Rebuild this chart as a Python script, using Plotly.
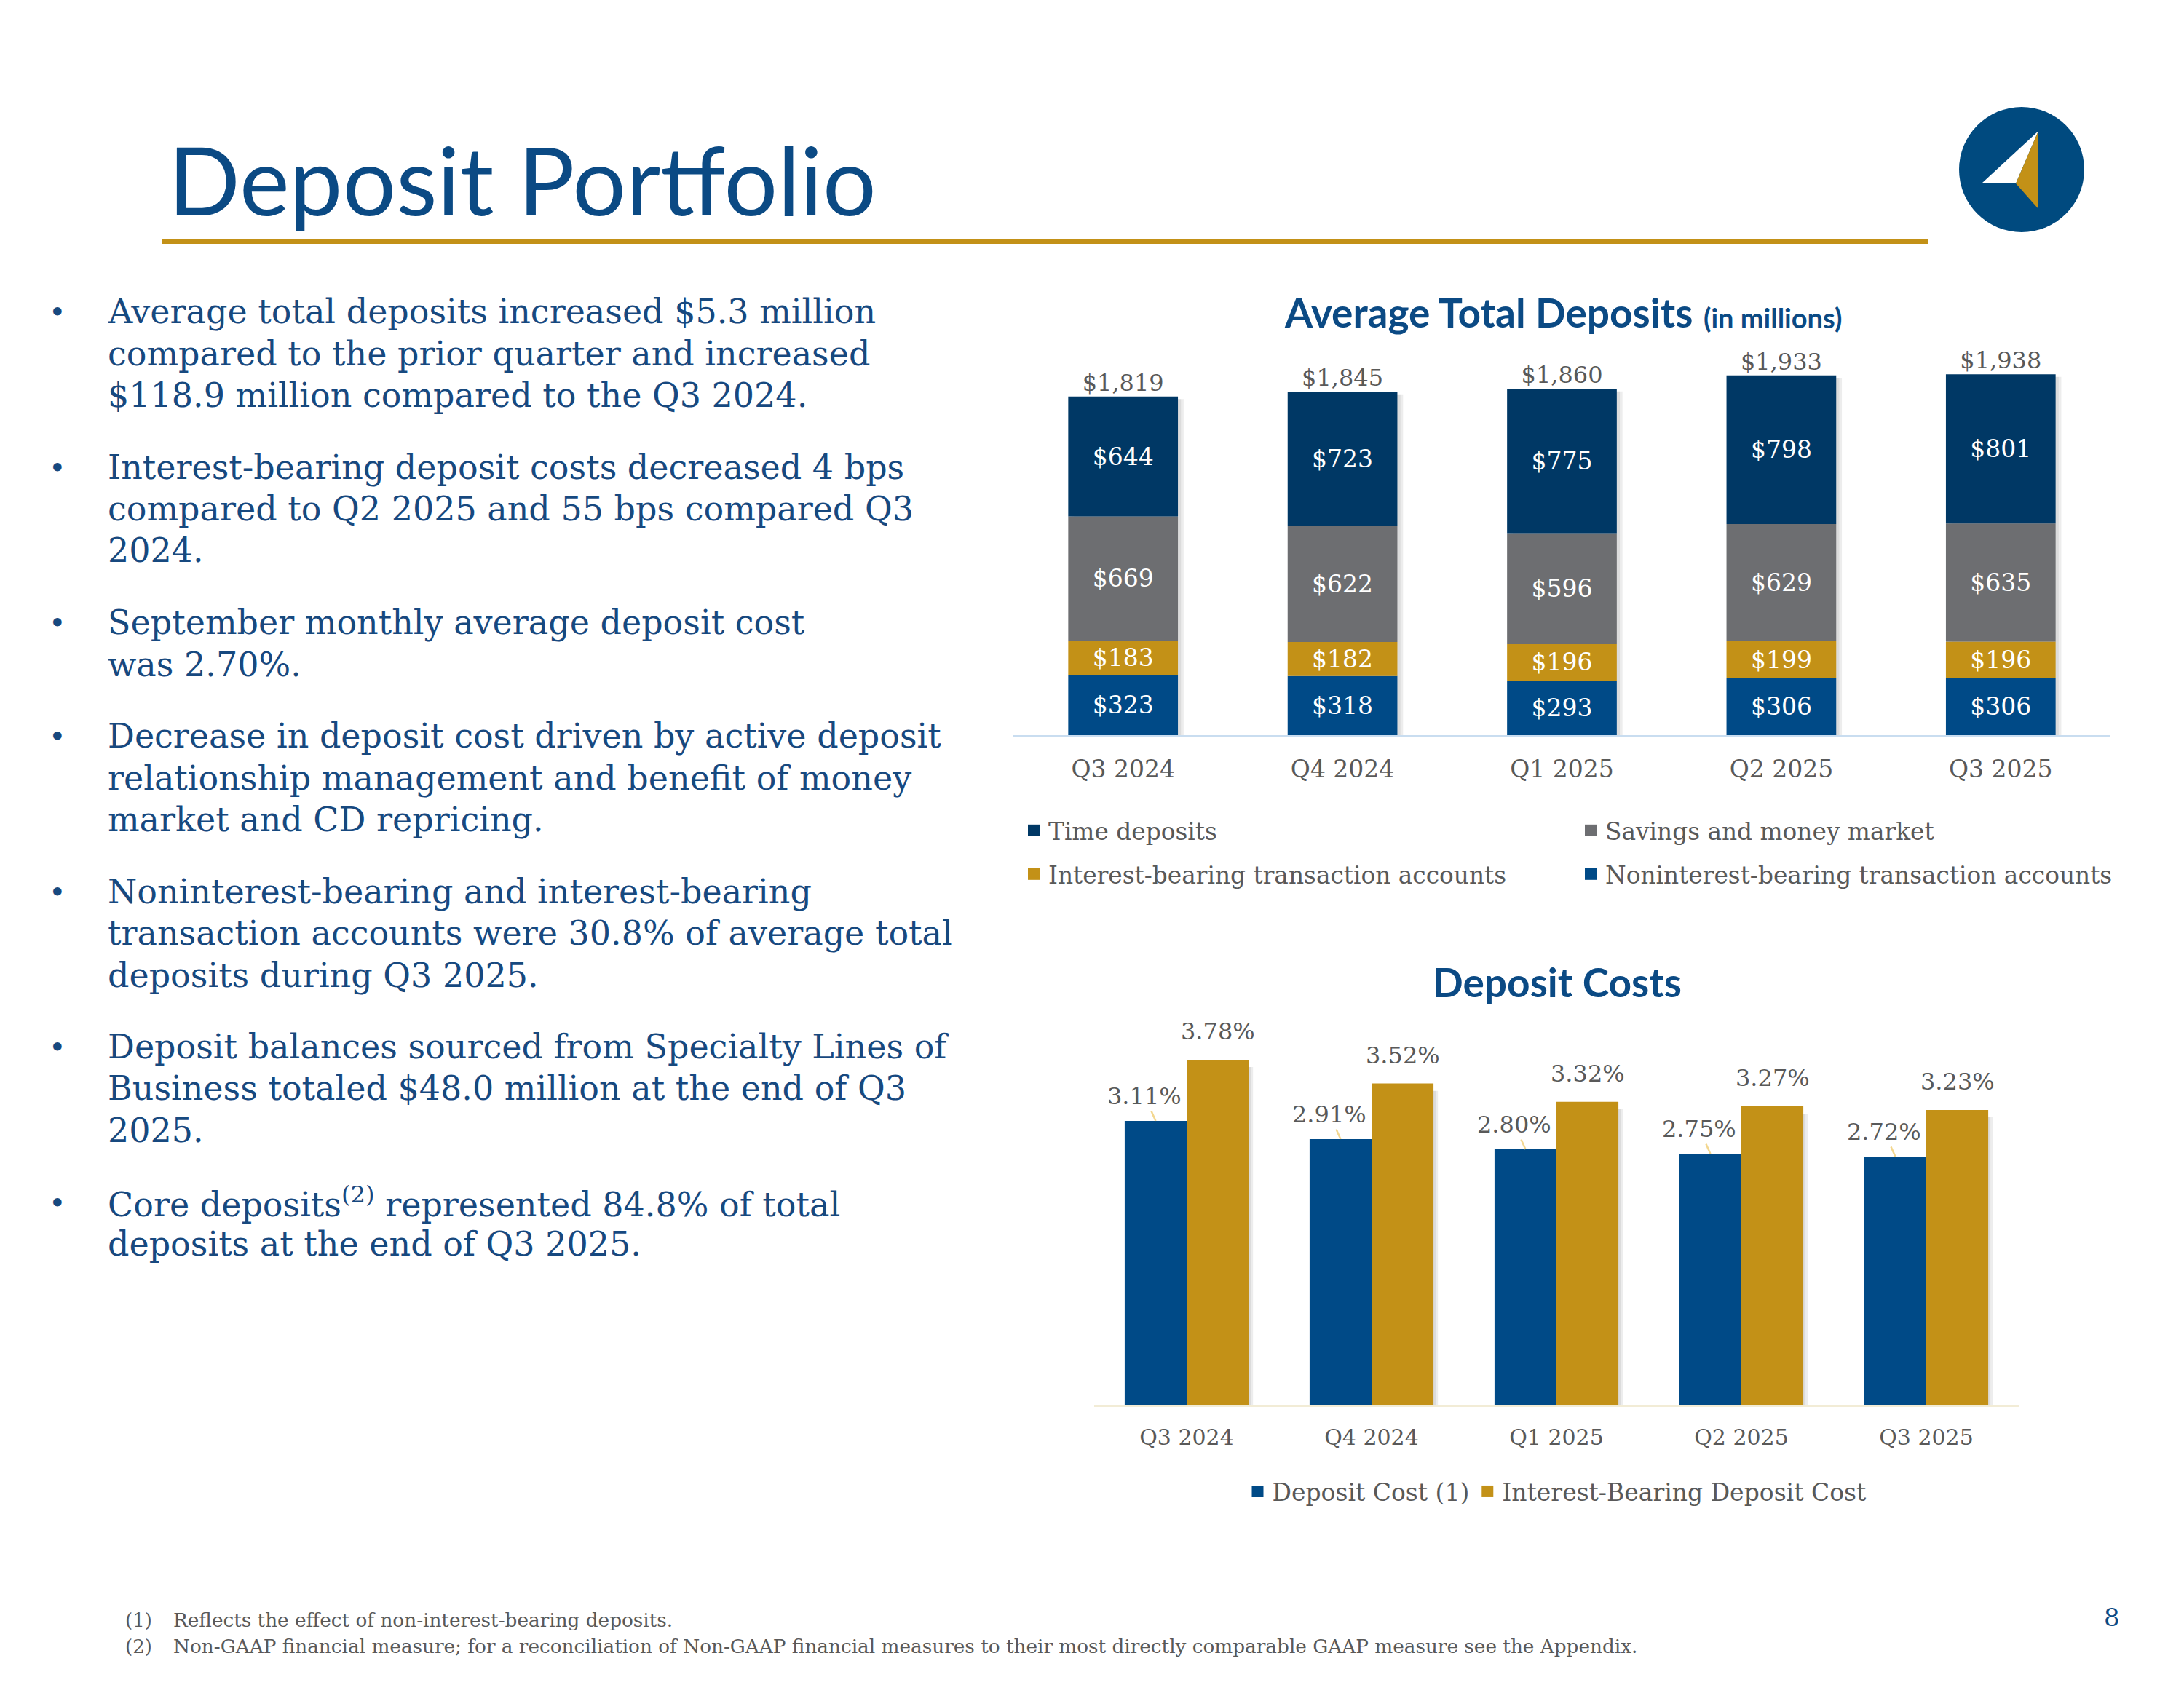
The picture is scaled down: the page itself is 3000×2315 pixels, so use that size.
import numpy as np
import plotly.graph_objects as go

W, H = 3000, 2315


def X(px):
    return px / W


def Y(py):
    return 1 - py / H


# ---------------- data ----------------
quarters = ["Q3 2024", "Q4 2024", "Q1 2025", "Q2 2025", "Q3 2025"]
noninterest = [323, 318, 293, 306, 306]
interest_bearing = [183, 182, 196, 199, 196]
savings = [669, 622, 596, 629, 635]
time_deposits = [644, 723, 775, 798, 801]
totals = [1819, 1845, 1860, 1933, 1938]

deposit_cost = [3.11, 2.91, 2.80, 2.75, 2.72]
ib_deposit_cost = [3.78, 3.52, 3.32, 3.27, 3.23]

bullets = [
    ["Average total deposits increased $5.3 million",
     "compared to the prior quarter and increased",
     "$118.9 million compared to the Q3 2024."],
    ["Interest-bearing deposit costs decreased 4 bps",
     "compared to Q2 2025 and 55 bps compared Q3",
     "2024."],
    ["September monthly average deposit cost",
     "was 2.70%."],
    ["Decrease in deposit cost driven by active deposit",
     "relationship management and benefit of money",
     "market and CD repricing."],
    ["Noninterest-bearing and interest-bearing",
     "transaction accounts were 30.8% of average total",
     "deposits during Q3 2025."],
    ["Deposit balances sourced from Specialty Lines of",
     "Business totaled $48.0 million at the end of Q3",
     "2025."],
    ["Core deposits<sup>(2)</sup> represented 84.8% of total",
     "deposits at the end of Q3 2025."],
]

footnotes = [
    ("(1)", "Reflects the effect of non-interest-bearing deposits."),
    ("(2)", "Non-GAAP financial measure; for a reconciliation of Non-GAAP financial "
            "measures to their most directly comparable GAAP measure see the Appendix."),
]

# ---------------- styles ----------------
SERIF = "DejaVu Serif"
SANS = "Lato"
NAVY = "#003865"
BLUE = "#004A87"
GRAY = "#6D6E71"
GOLD = "#C39117"
TEXT_BLUE = "#17497F"
TITLE_BLUE = "#0B4A84"
LABEL_GRAY = "#595959"
SHADOW = "rgba(0,0,0,0.07)"

fig = go.Figure()

# ---------------- top chart ----------------
for sh in (0.014, 0.026):
    fig.add_trace(go.Bar(
        x=quarters, y=np.array(totals, dtype=float) - 6, base=-8,
        marker=dict(color=SHADOW, line=dict(width=0)),
        width=0.5, offset=-0.25 + sh, showlegend=False,
        xaxis="x", yaxis="y", hoverinfo="skip",
    ))

stack_series = [
    ("Noninterest-bearing transaction accounts", noninterest, BLUE),
    ("Interest-bearing transaction accounts", interest_bearing, GOLD),
    ("Savings and money market", savings, GRAY),
    ("Time deposits", time_deposits, NAVY),
]
base = np.zeros(len(quarters))
for name, vals, color in stack_series:
    vals = np.array(vals, dtype=float)
    fig.add_trace(go.Bar(
        x=quarters, y=vals, base=base.copy(), name=name,
        marker=dict(color=color, line=dict(width=0)),
        width=0.5, offset=-0.25,
        text=[f"${int(v)}" for v in vals],
        textposition="inside", insidetextanchor="middle", textangle=0,
        constraintext="none",
        textfont=dict(family=SERIF, size=33, color="white"),
        showlegend=False, xaxis="x", yaxis="y", hoverinfo="skip",
    ))
    base = base + vals

fig.add_trace(go.Scatter(
    x=quarters, y=totals, mode="text",
    text=[f"${v:,}" for v in totals], textposition="top center",
    textfont=dict(family=SERIF, size=32, color=LABEL_GRAY),
    showlegend=False, xaxis="x", yaxis="y", hoverinfo="skip",
))

legend_items = [
    ("Time deposits", NAVY, "legend"),
    ("Savings and money market", GRAY, "legend"),
    ("Interest-bearing transaction accounts", GOLD, "legend2"),
    ("Noninterest-bearing transaction accounts", BLUE, "legend2"),
]
for name, color, leg in legend_items:
    fig.add_trace(go.Scatter(
        x=[None], y=[None], mode="markers", name=name,
        marker=dict(symbol="square", size=16, color=color),
        legend=leg, xaxis="x", yaxis="y", hoverinfo="skip",
    ))

# ---------------- bottom chart ----------------
BW = 0.335
for sh in (0.012, 0.024):
    fig.add_trace(go.Bar(
        x=quarters, y=np.array(ib_deposit_cost) - 0.03, base=-0.05,
        marker=dict(color=SHADOW, line=dict(width=0)),
        width=BW, offset=sh, showlegend=False,
        xaxis="x2", yaxis="y2", hoverinfo="skip",
    ))
    fig.add_trace(go.Bar(
        x=quarters, y=np.array(deposit_cost) - 0.03, base=-0.05,
        marker=dict(color=SHADOW, line=dict(width=0)),
        width=BW, offset=-BW + sh, showlegend=False,
        xaxis="x2", yaxis="y2", hoverinfo="skip",
    ))

fig.add_trace(go.Bar(
    x=quarters, y=deposit_cost, name="Deposit Cost (1)",
    marker=dict(color=BLUE, line=dict(width=0)),
    width=BW, offset=-BW, showlegend=False,
    xaxis="x2", yaxis="y2", hoverinfo="skip",
))
fig.add_trace(go.Bar(
    x=quarters, y=ib_deposit_cost, name="Interest-Bearing Deposit Cost",
    marker=dict(color=GOLD, line=dict(width=0)),
    width=BW, offset=0.0, showlegend=False,
    xaxis="x2", yaxis="y2", hoverinfo="skip",
))
for name, color in (("Deposit Cost (1)", BLUE), ("Interest-Bearing Deposit Cost", GOLD)):
    fig.add_trace(go.Scatter(
        x=[None], y=[None], mode="markers", name=name,
        marker=dict(symbol="square", size=16, color=color),
        legend="legend3", xaxis="x2", yaxis="y2", hoverinfo="skip",
    ))

annotations = []
for i, (dc, ib) in enumerate(zip(deposit_cost, ib_deposit_cost)):
    annotations.append(dict(
        x=i - BW / 2, y=dc, xref="x2", yref="y2",
        text=f"{dc:.2f}%", showarrow=True, arrowhead=0, arrowwidth=2.5,
        arrowcolor="#F3D78F", ax=-15, ay=-34, standoff=0,
        font=dict(family=SERIF, size=32, color=LABEL_GRAY),
    ))
    annotations.append(dict(
        x=i + BW / 2, y=ib, xref="x2", yref="y2",
        text=f"{ib:.2f}%", showarrow=False, yshift=39,
        font=dict(family=SERIF, size=32, color=LABEL_GRAY),
    ))

# ---------------- titles ----------------
annotations.append(dict(
    x=X(221), y=Y(238), xref="paper", yref="paper", xanchor="left", yanchor="middle",
    text="Deposit Portfolio", showarrow=False,
    font=dict(family=SANS, size=130, color=TITLE_BLUE),
))
annotations.append(dict(
    x=X(2319), y=Y(421), xref="paper", yref="paper", xanchor="right", yanchor="middle",
    text="<b>Average Total Deposits</b>", showarrow=False,
    font=dict(family=SANS, size=55, color=TITLE_BLUE),
))
annotations.append(dict(
    x=X(2330), y=Y(428), xref="paper", yref="paper", xanchor="left", yanchor="middle",
    text="<b>(in millions)</b>", showarrow=False,
    font=dict(family=SANS, size=38, color=TITLE_BLUE),
))
annotations.append(dict(
    x=X(2131), y=Y(1341), xref="paper", yref="paper", xanchor="center", yanchor="middle",
    text="<b>Deposit Costs</b>", showarrow=False,
    font=dict(family=SANS, size=55, color=TITLE_BLUE),
))

# ---------------- bullets ----------------
line_step = 57.5
para_step = 98.5
y = 420
for para in bullets:
    annotations.append(dict(
        x=X(57), y=Y(y), xref="paper", yref="paper", xanchor="left", yanchor="middle",
        text="•", showarrow=False, font=dict(family=SERIF, size=40, color=TEXT_BLUE),
    ))
    for j, line in enumerate(para):
        annotations.append(dict(
            x=X(138), y=Y(y + j * line_step), xref="paper", yref="paper",
            xanchor="left", yanchor="middle", text=line, showarrow=False,
            font=dict(family=SERIF, size=46, color=TEXT_BLUE),
        ))
    y += (len(para) - 1) * line_step + para_step

# ---------------- footnotes ----------------
for k, (num, txt) in enumerate(footnotes):
    yy = 2218 + k * 36
    annotations.append(dict(
        x=X(162), y=Y(yy), xref="paper", yref="paper", xanchor="left", yanchor="middle",
        text=num, showarrow=False, font=dict(family=SERIF, size=26, color=LABEL_GRAY),
    ))
    annotations.append(dict(
        x=X(228), y=Y(yy), xref="paper", yref="paper", xanchor="left", yanchor="middle",
        text=txt, showarrow=False, font=dict(family=SERIF, size=26.3, color=LABEL_GRAY),
    ))
annotations.append(dict(
    x=X(2906), y=Y(2214), xref="paper", yref="paper", xanchor="right", yanchor="middle",
    text="8", showarrow=False, font=dict(family=SERIF, size=34, color=TITLE_BLUE),
))

# ---------------- decorative shapes ----------------
def path(points):
    return "M " + " L ".join(f"{X(a):.5f},{Y(b):.5f}" for a, b in points) + " Z"

shapes = [
    dict(type="rect", xref="paper", yref="paper", x0=X(214), x1=X(2640), y0=Y(321), y1=Y(327),
         fillcolor=GOLD, line=dict(width=0)),
    dict(type="circle", xref="paper", yref="paper", x0=X(2683), x1=X(2855), y0=Y(139), y1=Y(311),
         fillcolor="#004A7F", line=dict(width=0)),
    dict(type="path", xref="paper", yref="paper", path=path([(2714, 244), (2792, 172), (2761, 244)]),
         fillcolor="white", line=dict(width=0)),
    dict(type="path", xref="paper", yref="paper", path=path([(2792, 172), (2761, 244), (2792, 279)]),
         fillcolor=GOLD, line=dict(width=0)),
]

legend_common = dict(
    orientation="h", bgcolor="rgba(0,0,0,0)", traceorder="normal",
    font=dict(family=SERIF, size=32.8, color=LABEL_GRAY), yanchor="middle",
)

fig.update_layout(
    width=W, height=H, margin=dict(l=0, r=0, t=0, b=0),
    paper_bgcolor="white", plot_bgcolor="rgba(0,0,0,0)",
    barmode="overlay",
    xaxis=dict(domain=[X(1384), X(2891)], type="category", showgrid=False, zeroline=False,
               showline=True, linecolor="#C9DDF0", linewidth=3, ticks="",
               tickfont=dict(family=SERIF, size=33, color=LABEL_GRAY), ticklabelstandoff=15,
               fixedrange=True, anchor="y"),
    yaxis=dict(domain=[Y(1002), Y(473)], range=[0, 2068], visible=False, fixedrange=True,
               anchor="x"),
    xaxis2=dict(domain=[X(1495), X(2765)], type="category", showgrid=False, zeroline=False,
                showline=True, linecolor="#F2ECD6", linewidth=3, ticks="",
                tickfont=dict(family=SERIF, size=30, color=LABEL_GRAY), ticklabelstandoff=16,
                fixedrange=True, anchor="y2"),
    yaxis2=dict(domain=[Y(1922), Y(1402)], range=[0, 4.147], visible=False, fixedrange=True,
                anchor="x2"),
    legend=dict(x=X(1392), y=Y(1133), xanchor="left", entrywidth=720, **legend_common),
    legend2=dict(x=X(1392), y=Y(1193), xanchor="left", entrywidth=720, **legend_common),
    legend3=dict(x=X(2130), y=Y(2041), xanchor="center", orientation="h",
                 bgcolor="rgba(0,0,0,0)", yanchor="middle",
                 font=dict(family=SERIF, size=33, color=LABEL_GRAY)),
    annotations=annotations,
    shapes=shapes,
    showlegend=True,
)

fig.write_html("out.html")
